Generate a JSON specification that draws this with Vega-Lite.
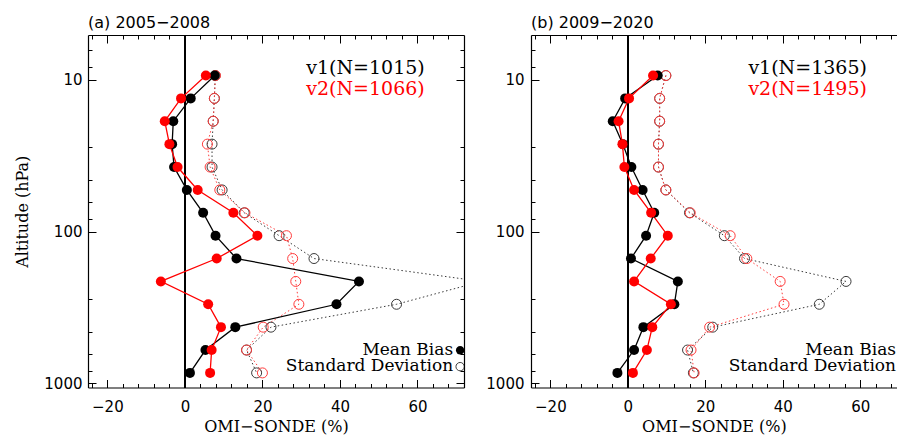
{
  "$schema": "https://vega.github.io/schema/vega-lite/v6.json",
  "padding": {"left": 14, "top": 15, "right": 0, "bottom": 2},
  "spacing": 67,
  "bounds": "flush",
  "datasets": {
    "prof": [
      {"panel":"a","ver":"v1","p":9.41,"bias":7.7,"sd":7.8},
      {"panel":"a","ver":"v1","p":13.3,"bias":1.5,"sd":7.6},
      {"panel":"a","ver":"v1","p":18.8,"bias":-3.0,"sd":7.3},
      {"panel":"a","ver":"v1","p":26.6,"bias":-3.3,"sd":7.0},
      {"panel":"a","ver":"v1","p":37.65,"bias":-2.8,"sd":7.0},
      {"panel":"a","ver":"v1","p":53.25,"bias":0.5,"sd":9.6},
      {"panel":"a","ver":"v1","p":75.3,"bias":4.7,"sd":15.3},
      {"panel":"a","ver":"v1","p":106.5,"bias":7.9,"sd":24.3},
      {"panel":"a","ver":"v1","p":150.6,"bias":13.3,"sd":33.3},
      {"panel":"a","ver":"v1","p":213,"bias":44.9,"sd":76.5},
      {"panel":"a","ver":"v1","p":301.2,"bias":39.1,"sd":54.6},
      {"panel":"a","ver":"v1","p":426,"bias":13.0,"sd":22.2},
      {"panel":"a","ver":"v1","p":602.5,"bias":5.3,"sd":15.9},
      {"panel":"a","ver":"v1","p":852,"bias":1.3,"sd":18.5},
      {"panel":"a","ver":"v2","p":9.41,"bias":5.4,"sd":7.9},
      {"panel":"a","ver":"v2","p":13.3,"bias":-1.0,"sd":7.6},
      {"panel":"a","ver":"v2","p":18.8,"bias":-5.2,"sd":7.3},
      {"panel":"a","ver":"v2","p":26.6,"bias":-4.0,"sd":5.8},
      {"panel":"a","ver":"v2","p":37.65,"bias":-1.9,"sd":6.5},
      {"panel":"a","ver":"v2","p":53.25,"bias":3.3,"sd":9.0},
      {"panel":"a","ver":"v2","p":75.3,"bias":12.5,"sd":15.5},
      {"panel":"a","ver":"v2","p":106.5,"bias":18.7,"sd":26.2},
      {"panel":"a","ver":"v2","p":150.6,"bias":8.2,"sd":27.8},
      {"panel":"a","ver":"v2","p":213,"bias":-6.2,"sd":28.6},
      {"panel":"a","ver":"v2","p":301.2,"bias":6.0,"sd":29.4},
      {"panel":"a","ver":"v2","p":426,"bias":9.3,"sd":20.2},
      {"panel":"a","ver":"v2","p":602.5,"bias":6.9,"sd":15.9},
      {"panel":"a","ver":"v2","p":852,"bias":6.5,"sd":20.0},
      {"panel":"b","ver":"v1","p":9.41,"bias":7.7,"sd":9.8},
      {"panel":"b","ver":"v1","p":13.3,"bias":-0.7,"sd":8.2},
      {"panel":"b","ver":"v1","p":18.8,"bias":-3.9,"sd":8.2},
      {"panel":"b","ver":"v1","p":26.6,"bias":-1.3,"sd":7.9},
      {"panel":"b","ver":"v1","p":37.65,"bias":0.9,"sd":7.9},
      {"panel":"b","ver":"v1","p":53.25,"bias":3.8,"sd":9.8},
      {"panel":"b","ver":"v1","p":75.3,"bias":6.8,"sd":15.9},
      {"panel":"b","ver":"v1","p":106.5,"bias":4.7,"sd":24.9},
      {"panel":"b","ver":"v1","p":150.6,"bias":0.8,"sd":30.1},
      {"panel":"b","ver":"v1","p":213,"bias":12.9,"sd":56.3},
      {"panel":"b","ver":"v1","p":301.2,"bias":12.0,"sd":49.4},
      {"panel":"b","ver":"v1","p":426,"bias":4.0,"sd":21.9},
      {"panel":"b","ver":"v1","p":602.5,"bias":1.6,"sd":15.4},
      {"panel":"b","ver":"v1","p":852,"bias":-2.7,"sd":16.9},
      {"panel":"b","ver":"v2","p":9.41,"bias":6.5,"sd":9.8},
      {"panel":"b","ver":"v2","p":13.3,"bias":0.3,"sd":8.2},
      {"panel":"b","ver":"v2","p":18.8,"bias":-2.4,"sd":8.2},
      {"panel":"b","ver":"v2","p":26.6,"bias":-1.4,"sd":7.9},
      {"panel":"b","ver":"v2","p":37.65,"bias":-0.9,"sd":7.9},
      {"panel":"b","ver":"v2","p":53.25,"bias":1.6,"sd":9.8},
      {"panel":"b","ver":"v2","p":75.3,"bias":6.0,"sd":16.1},
      {"panel":"b","ver":"v2","p":106.5,"bias":10.3,"sd":26.4},
      {"panel":"b","ver":"v2","p":150.6,"bias":5.9,"sd":30.7},
      {"panel":"b","ver":"v2","p":213,"bias":1.6,"sd":39.3},
      {"panel":"b","ver":"v2","p":301.2,"bias":11.1,"sd":40.3},
      {"panel":"b","ver":"v2","p":426,"bias":6.3,"sd":21.1},
      {"panel":"b","ver":"v2","p":602.5,"bias":4.9,"sd":16.3},
      {"panel":"b","ver":"v2","p":852,"bias":1.3,"sd":17.1}
    ]
  },
  "hconcat": [
    {
      "width": 376,
      "height": 352.5,
      "title": {"text": "(a) 2005−2008", "anchor": "start", "frame": "group", "font": "DejaVu Sans", "fontSize": 16, "fontWeight": "normal", "baseline": "alphabetic", "offset": -10, "color": "black"},
      "data": {"name": "prof"},
      "transform": [{"filter": "datum.panel === 'a'"}],
      "resolve": {"axis": {"x": "independent", "y": "independent"}},
      "layer": [
        {
          "mark": {"type": "rule", "color": "black", "strokeWidth": 1.3},
          "encoding": {
            "x": {"datum": 0, "type": "quantitative", "scale": {"domain": [-25, 72], "nice": false, "zero": false},
              "axis": {"orient": "top", "values": [-24,-20,-16,-12,-8,-4,0,4,8,12,16,20,24,28,32,36,40,44,48,52,56,60,64,68], "labels": false, "title": null,
                "tickSize": {"condition": {"test": "datum.value % 20 === 0", "value": -8}, "value": -4}}}
          }
        },
        {
          "mark": {"type": "line", "strokeDash": [1.5, 2.5], "strokeWidth": 1, "clip": true},
          "encoding": {
            "x": {"field": "sd", "type": "quantitative", "scale": {"domain": [-25, 72], "nice": false, "zero": false}, "axis": null},
            "y": {"field": "p", "type": "quantitative", "scale": {"type": "log", "domain": [5.09, 1063], "reverse": true, "nice": false},
              "axis": {"orient": "right", "values": [6.4,8.3,10,27.7,45.7,63.8,82.8,100,277,457,638,828,1000], "labels": false, "title": null,
                "tickSize": {"condition": {"test": "datum.value === 10 || datum.value === 100 || datum.value === 1000", "value": -8}, "value": -4}}},
            "stroke": {"field": "ver", "type": "nominal", "scale": {"domain": ["v1", "v2"], "range": ["#3a3a3a", "#ff3b3b"]}, "legend": null},
            "order": {"field": "p", "type": "quantitative"}
          }
        },
        {
          "mark": {"type": "point", "filled": false, "size": 100, "strokeWidth": 1, "clip": true, "opacity": 1},
          "encoding": {
            "x": {"field": "sd", "type": "quantitative", "axis": null},
            "y": {"field": "p", "type": "quantitative", "axis": null},
            "stroke": {"field": "ver", "type": "nominal", "legend": null}
          }
        },
        {
          "mark": {"type": "line", "strokeWidth": 1.3},
          "encoding": {
            "x": {"field": "bias", "type": "quantitative", "axis": null},
            "y": {"field": "p", "type": "quantitative", "axis": null},
            "color": {"field": "ver", "type": "nominal", "scale": {"domain": ["v1", "v2"], "range": ["black", "red"]}, "legend": null},
            "order": {"field": "p", "type": "quantitative"}
          }
        },
        {
          "mark": {"type": "point", "filled": true, "size": 100, "opacity": 1},
          "encoding": {
            "x": {"field": "bias", "type": "quantitative",
              "axis": {"orient": "bottom", "values": [-24,-20,-16,-12,-8,-4,0,4,8,12,16,20,24,28,32,36,40,44,48,52,56,60,64,68],
                "labelExpr": "datum.value % 20 === 0 ? datum.label : ''", "labelFlush": false, "labelOverlap": false,
                "tickSize": {"condition": {"test": "datum.value % 20 === 0", "value": -8}, "value": -4},
                "labelPadding": 20, "title": "OMI−SONDE (%)", "titlePadding": 0}},
            "y": {"field": "p", "type": "quantitative",
              "axis": {"orient": "left", "values": [6.4,8.3,10,27.7,45.7,63.8,82.8,100,277,457,638,828,1000],
                "labelExpr": "(datum.value === 10 || datum.value === 100 || datum.value === 1000) ? format(datum.value, 'd') : ''",
                "labelOverlap": false, "labelFlush": false,
                "tickSize": {"condition": {"test": "datum.value === 10 || datum.value === 100 || datum.value === 1000", "value": -8}, "value": -4},
                "labelPadding": 14, "title": "Altitude (hPa)", "titlePadding": 13, "titleFontSize": 16}},
            "color": {"field": "ver", "type": "nominal", "legend": null}
          }
        },
        {
          "data": {"values": [{}]},
          "mark": {"type": "text", "text": "v1(N=1015)", "align": "left", "baseline": "alphabetic", "font": "DejaVu Serif", "fontSize": 19, "color": "black"},
          "encoding": {"x": {"datum": 31.3, "type": "quantitative", "axis": null}, "y": {"datum": 9.24, "type": "quantitative", "axis": null}}
        },
        {
          "data": {"values": [{}]},
          "mark": {"type": "text", "text": "v2(N=1066)", "align": "left", "baseline": "alphabetic", "font": "DejaVu Serif", "fontSize": 19, "color": "red"},
          "encoding": {"x": {"datum": 31.3, "type": "quantitative", "axis": null}, "y": {"datum": 12.7, "type": "quantitative", "axis": null}}
        },
        {
          "data": {"values": [{}]},
          "mark": {"type": "text", "text": "Mean Bias", "align": "right", "baseline": "alphabetic", "font": "DejaVu Serif", "fontSize": 17, "color": "black", "clip": true},
          "encoding": {"x": {"datum": 69.2, "type": "quantitative", "axis": null}, "y": {"datum": 652, "type": "quantitative", "axis": null}}
        },
        {
          "data": {"values": [{}]},
          "mark": {"type": "text", "text": "Standard Deviation", "align": "right", "baseline": "alphabetic", "font": "DejaVu Serif", "fontSize": 17, "color": "black", "clip": true},
          "encoding": {"x": {"datum": 69.2, "type": "quantitative", "axis": null}, "y": {"datum": 827, "type": "quantitative", "axis": null}}
        },
        {
          "data": {"values": [{}]},
          "mark": {"type": "point", "filled": true, "size": 70, "color": "black", "opacity": 1, "clip": true},
          "encoding": {"x": {"datum": 71, "type": "quantitative", "axis": null}, "y": {"datum": 605, "type": "quantitative", "axis": null}}
        },
        {
          "data": {"values": [{}]},
          "mark": {"type": "point", "filled": false, "size": 70, "color": "#3a3a3a", "strokeWidth": 1, "opacity": 1, "clip": true},
          "encoding": {"x": {"datum": 71, "type": "quantitative", "axis": null}, "y": {"datum": 775, "type": "quantitative", "axis": null}}
        }
      ]
    },
    {
      "width": 365.8,
      "height": 352.5,
      "title": {"text": "(b) 2009−2020", "anchor": "start", "frame": "group", "font": "DejaVu Sans", "fontSize": 16, "fontWeight": "normal", "baseline": "alphabetic", "offset": -10, "color": "black"},
      "data": {"name": "prof"},
      "transform": [{"filter": "datum.panel === 'b'"}],
      "resolve": {"axis": {"x": "independent", "y": "independent"}},
      "layer": [
        {
          "mark": {"type": "rule", "color": "black", "strokeWidth": 1.3},
          "encoding": {
            "x": {"datum": 0, "type": "quantitative", "scale": {"domain": [-25, 69.4], "nice": false, "zero": false},
              "axis": {"orient": "top", "values": [-24,-20,-16,-12,-8,-4,0,4,8,12,16,20,24,28,32,36,40,44,48,52,56,60,64,68], "labels": false, "title": null,
                "tickSize": {"condition": {"test": "datum.value % 20 === 0", "value": -8}, "value": -4}}}
          }
        },
        {
          "mark": {"type": "line", "strokeDash": [1.5, 2.5], "strokeWidth": 1, "clip": true},
          "encoding": {
            "x": {"field": "sd", "type": "quantitative", "scale": {"domain": [-25, 69.4], "nice": false, "zero": false}, "axis": null},
            "y": {"field": "p", "type": "quantitative", "scale": {"type": "log", "domain": [5.09, 1063], "reverse": true, "nice": false}, "axis": null},
            "stroke": {"field": "ver", "type": "nominal", "scale": {"domain": ["v1", "v2"], "range": ["#3a3a3a", "#ff3b3b"]}, "legend": null},
            "order": {"field": "p", "type": "quantitative"}
          }
        },
        {
          "mark": {"type": "point", "filled": false, "size": 100, "strokeWidth": 1, "clip": true, "opacity": 1},
          "encoding": {
            "x": {"field": "sd", "type": "quantitative", "axis": null},
            "y": {"field": "p", "type": "quantitative", "axis": null},
            "stroke": {"field": "ver", "type": "nominal", "legend": null}
          }
        },
        {
          "mark": {"type": "line", "strokeWidth": 1.3},
          "encoding": {
            "x": {"field": "bias", "type": "quantitative", "axis": null},
            "y": {"field": "p", "type": "quantitative", "axis": null},
            "color": {"field": "ver", "type": "nominal", "scale": {"domain": ["v1", "v2"], "range": ["black", "red"]}, "legend": null},
            "order": {"field": "p", "type": "quantitative"}
          }
        },
        {
          "mark": {"type": "point", "filled": true, "size": 100, "opacity": 1},
          "encoding": {
            "x": {"field": "bias", "type": "quantitative",
              "axis": {"orient": "bottom", "values": [-24,-20,-16,-12,-8,-4,0,4,8,12,16,20,24,28,32,36,40,44,48,52,56,60,64,68],
                "labelExpr": "datum.value % 20 === 0 ? datum.label : ''", "labelFlush": false, "labelOverlap": false,
                "tickSize": {"condition": {"test": "datum.value % 20 === 0", "value": -8}, "value": -4},
                "labelPadding": 20, "title": "OMI−SONDE (%)", "titlePadding": 0}},
            "y": {"field": "p", "type": "quantitative",
              "axis": {"orient": "left", "values": [6.4,8.3,10,27.7,45.7,63.8,82.8,100,277,457,638,828,1000],
                "labelExpr": "(datum.value === 10 || datum.value === 100 || datum.value === 1000) ? format(datum.value, 'd') : ''",
                "labelOverlap": false, "labelFlush": false,
                "tickSize": {"condition": {"test": "datum.value === 10 || datum.value === 100 || datum.value === 1000", "value": -8}, "value": -4},
                "labelPadding": 15, "title": null}},
            "color": {"field": "ver", "type": "nominal", "legend": null}
          }
        },
        {
          "data": {"values": [{}]},
          "mark": {"type": "text", "text": "v1(N=1365)", "align": "left", "baseline": "alphabetic", "font": "DejaVu Serif", "fontSize": 19, "color": "black"},
          "encoding": {"x": {"datum": 31.1, "type": "quantitative", "axis": null}, "y": {"datum": 9.24, "type": "quantitative", "axis": null}}
        },
        {
          "data": {"values": [{}]},
          "mark": {"type": "text", "text": "v2(N=1495)", "align": "left", "baseline": "alphabetic", "font": "DejaVu Serif", "fontSize": 19, "color": "red"},
          "encoding": {"x": {"datum": 31.1, "type": "quantitative", "axis": null}, "y": {"datum": 12.7, "type": "quantitative", "axis": null}}
        },
        {
          "data": {"values": [{}]},
          "mark": {"type": "text", "text": "Mean Bias", "align": "right", "baseline": "alphabetic", "font": "DejaVu Serif", "fontSize": 17, "color": "black", "clip": true},
          "encoding": {"x": {"datum": 69.2, "type": "quantitative", "axis": null}, "y": {"datum": 652, "type": "quantitative", "axis": null}}
        },
        {
          "data": {"values": [{}]},
          "mark": {"type": "text", "text": "Standard Deviation", "align": "right", "baseline": "alphabetic", "font": "DejaVu Serif", "fontSize": 17, "color": "black", "clip": true},
          "encoding": {"x": {"datum": 69.2, "type": "quantitative", "axis": null}, "y": {"datum": 827, "type": "quantitative", "axis": null}}
        }
      ]
    }
  ],
  "config": {
    "view": {"stroke": null},
    "axis": {
      "grid": false, "domain": true, "domainColor": "black", "domainWidth": 1.2, "tickColor": "black", "tickWidth": 1,
      "labelColor": "black", "labelFont": "DejaVu Sans", "labelFontSize": 15,
      "titleColor": "black", "titleFont": "DejaVu Serif", "titleFontSize": 16, "titleFontWeight": "normal"
    }
  }
}
